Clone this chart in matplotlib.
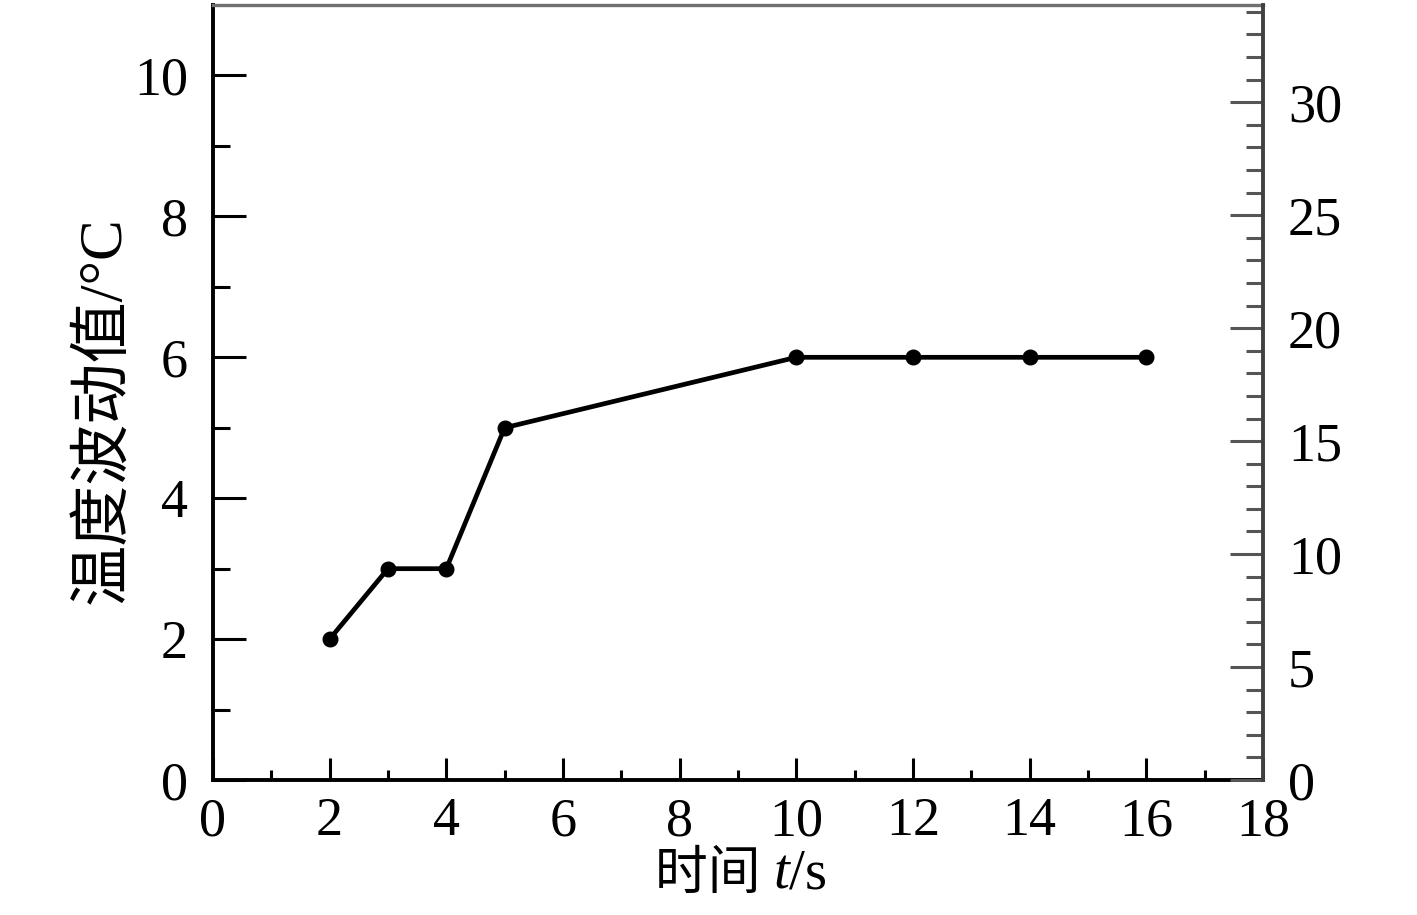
import matplotlib
matplotlib.use("Agg")
import matplotlib.pyplot as plt
from matplotlib.ticker import MultipleLocator, FixedLocator
from matplotlib.offsetbox import TextArea, HPacker, AnchoredOffsetbox

# Data
time_s = [2, 3, 4, 5, 10, 12, 14, 16]
temp_fluct = [2, 3, 3, 5, 6, 6, 6, 6]
x_ticks = [0, 2, 4, 6, 8, 10, 12, 14, 16, 18]
y_ticks = [0, 2, 4, 6, 8, 10]
y2_ticks = [0, 5, 10, 15, 20, 25, 30]

serif = ['Liberation Serif', 'Noto Sans CJK SC']

fig = plt.figure(figsize=(14.17, 9.15), dpi=100)
ax = fig.add_axes([0.1503, 0.1475, 0.7410, 0.847])

ax.plot(time_s, temp_fluct, color='black', linewidth=3.4, marker='o',
        markersize=10.5, markerfacecolor='black', markeredgecolor='black',
        solid_joinstyle='round', zorder=5)

ax.set_xlim(0, 18)
ax.set_ylim(0, 11)
ax.set_xticks(x_ticks)
ax.set_yticks(y_ticks)
ax.xaxis.set_minor_locator(FixedLocator([1, 3, 5, 7, 9, 11, 13, 15, 17]))
ax.yaxis.set_minor_locator(FixedLocator([1, 3, 5, 7, 9]))

ax.tick_params(axis='x', which='major', direction='in', length=16, width=2.2,
               pad=12, labelsize=39, colors='black')
ax.tick_params(axis='x', which='minor', direction='in', length=7.5, width=2.2)
ax.tick_params(axis='y', which='major', direction='in', length=24, width=2.2,
               pad=18, labelsize=39)
ax.tick_params(axis='y', which='minor', direction='in', length=12, width=2.2)
for lab in ax.get_xticklabels() + ax.get_yticklabels():
    lab.set_family(serif)

for s in ['left', 'bottom']:
    ax.spines[s].set_linewidth(2.8)
    ax.spines[s].set_color('black')
ax.spines['top'].set_linewidth(2.4)
ax.spines['top'].set_color('#707070')
ax.spines['right'].set_visible(False)

ax2 = ax.twinx()
ax2.set_ylim(0, 34.3)
ax2.set_yticks(y2_ticks)
ax2.yaxis.set_minor_locator(MultipleLocator(1))
ax2.tick_params(axis='y', which='major', direction='in', length=24, width=2.2,
                pad=18, labelsize=39, color='#555555', labelcolor='black')
ax2.tick_params(axis='y', which='minor', direction='in', length=12.5, width=2.2,
                color='#555555')
for lab in ax2.get_yticklabels():
    lab.set_family(serif)
for s in ['left', 'bottom', 'top']:
    ax2.spines[s].set_visible(False)
ax2.spines['right'].set_linewidth(2.8)
ax2.spines['right'].set_color('#404040')

# x label built from pieces: CJK + italic t + /s
p1 = TextArea('时间 ', textprops=dict(fontsize=38, family=serif, color='black'))
p2 = TextArea('t', textprops=dict(fontsize=41, family='Liberation Serif',
                                  style='italic', color='black'))
p3 = TextArea('/s', textprops=dict(fontsize=41, family='Liberation Serif',
                                   color='black'))
pack = HPacker(children=[p1, p2, p3], align='baseline', pad=0, sep=0)
anch = AnchoredOffsetbox(loc='center', child=pack, frameon=False,
                         bbox_to_anchor=(0.503, -0.122), bbox_transform=ax.transAxes,
                         borderpad=0, pad=0)
ax.add_artist(anch)

ax.set_ylabel('温度波动值/°C', fontsize=44, family=serif)
ax.yaxis.set_label_coords(-0.077, 0.477)

fig.savefig('out.png', dpi=100, facecolor='white')
